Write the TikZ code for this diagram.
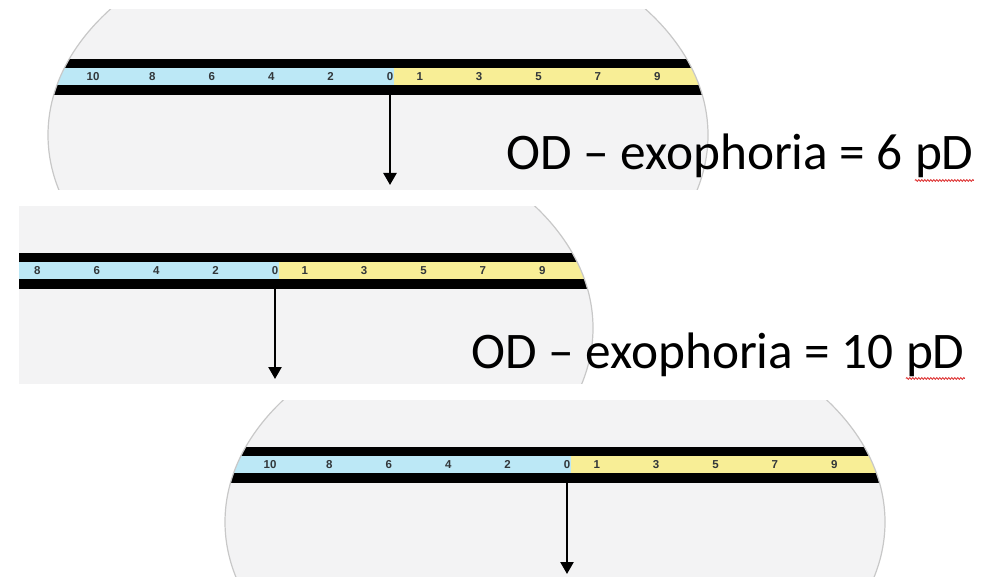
\documentclass[tikz,border=0pt]{standalone}
\usepackage{fontspec}
\newfontfamily\calib{Carlito}
\newfontfamily\scalefnt{Liberation Sans}
\usetikzlibrary{arrows.meta,decorations.pathmorphing}
\definecolor{discfill}{RGB}{243,243,244}
\definecolor{discedge}{RGB}{200,200,200}
\definecolor{bandblue}{RGB}{188,232,246}
\definecolor{bandyellow}{RGB}{248,238,150}
\definecolor{numgray}{RGB}{50,55,58}
\definecolor{wavyred}{RGB}{220,40,40}
\tikzset{
  disc/.style={fill=discfill},
  discrim/.style={draw=discedge, line width=1.2pt},
  num/.style={font=\scalefnt\bfseries\fontsize{11.5}{12}\selectfont, text=numgray, inner sep=0},
  pointer/.style={line width=2.4pt, -{Triangle[width=13pt,length=12pt]}},
  caption/.style={font=\calib\fontsize{51.3}{60}\selectfont, anchor=base west, inner sep=0},
  wavy/.style={draw=wavyred, line width=0.8pt, decorate, decoration={snake, segment length=3pt, amplitude=0.9pt}},
}
% #1 name, #2 cx, #3 cy, #4 zero x, #5 band top y, #6 arrow tip y, #7 clip xmin, #8 clip ymin, #9 clip ymax
\newcommand\mpanel[9]{%
  \begin{scope}
    \clip (#7,#8) rectangle (981,#9);
    \path[disc] (#2,#3) ellipse [x radius=330pt, y radius=215pt];
    \begin{scope}
      \clip (#2,#3) ellipse [x radius=330pt, y radius=215pt];
      \fill[black] (0,#5) rectangle (981,{#5+9});
      \fill[bandblue] (0,{#5+9}) rectangle ({#4+4},{#5+26});
      \fill[bandyellow] ({#4+4},{#5+9}) rectangle (981,{#5+26});
      \fill[black] (0,{#5+26}) rectangle (981,{#5+36});
      \foreach \v in {2,4,6,8,10}{%
        \pgfmathsetmacro\xx{#4-\v*29.7}%
        \ifdim\xx pt>#7pt \node[num] at (\xx,{#5+17.5}) {\v};\fi}
      \foreach \v in {1,3,5,7,9} \node[num] at ({#4+\v*29.7},{#5+17.5}) {\v};
      \node[num] at (#4,{#5+17.5}) {0};
    \end{scope}
    \path[discrim] (#2,#3) ellipse [x radius=330pt, y radius=215pt];
    \coordinate (#1z) at (#4,{#5+36});
    \coordinate (#1t) at (#4,#6);
    \draw[pointer] (#1z) -- (#1t);
  \end{scope}}
\begin{document}
\begin{tikzpicture}[x=1pt,y=-1pt]
  \fill[white] (0,0) rectangle (981,577);
  \useasboundingbox (0,0) rectangle (981,577);
  \mpanel{a}{378}{135}{390}{59}{185}{0}{10}{190}
  \mpanel{b}{263}{328}{275}{253}{379}{19}{207}{383}
  \mpanel{c}{555}{522}{567}{447}{574}{0}{400}{577}
  \node[caption] (c1) at (506,170) {OD – exophoria = 6};
  \node[caption] (p1) at ([xshift=11.6pt]c1.base east) {pD};
  \draw[wavy] ([yshift=-2pt]p1.south west) -- ([yshift=-2pt]p1.south east);
  \node[caption] (c2) at (471,368) {OD – exophoria = 10};
  \node[caption] (p2) at ([xshift=11.6pt]c2.base east) {pD};
  \draw[wavy] ([yshift=-2pt]p2.south west) -- ([yshift=-2pt]p2.south east);
\end{tikzpicture}
\end{document}
